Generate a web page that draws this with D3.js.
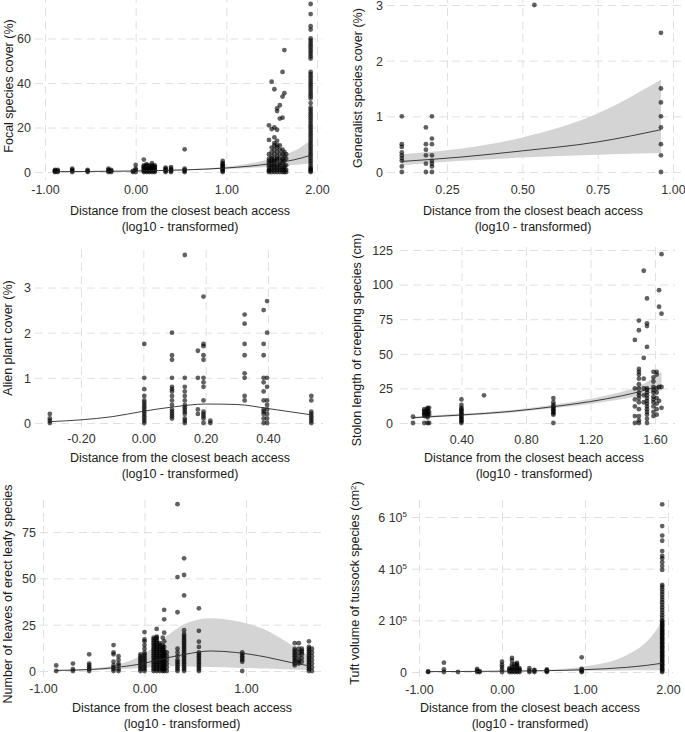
<!DOCTYPE html>
<html><head><meta charset="utf-8">
<script src="https://cdn.jsdelivr.net/npm/d3@7"></script>
<style>body{margin:0;background:#fff}svg{display:block}</style>
</head><body><svg id="c" width="685" height="732"></svg>
<script>
// ---------------- DATA ----------------
// x = distance from the closest beach access (log10), y = response
const focalPts = [
 [-0.89,[0,0.3,0.6,1]], [-0.86,[0,0.5,1]], [-0.7,[0,0.5,1,1.5]], [-0.53,[0,0.5,1]],
 [-0.3,[0,0.5,1,1.5]], [-0.27,[0,0.5,1]], [-0.03,[0,0.5]], [0.0,[0,1,1.5,3.2]],
 [0.09,[0,0.5,1,1.5,2,2.5,3,5.6]], [0.12,[0,0.5,1,1.5,2,2.5,3,3.5]], [0.15,[0,0.5,1,1.5,2,2.5,3]],
 [0.18,[0,0.5,1,1.5,2,2.5,3,4]], [0.21,[0,0.5,1,1.5,2,2.5,3]], [0.33,[0,0.5,1,1.5,2]],
 [0.39,[0,0.5,1,1.5,2.2]], [0.54,[0,0.5,1,1.5,10.2]], [0.96,[0,0.5,1,1.5,2,2.5,3,3.5,4,5]],
 [1.47,[0,0.5,1,2,3,4,5,6,8,14.4,21]], [1.5,[0,1,2,3,4,5,6,7,9,11,19.3,40.6]],
 [1.53,[0,1,2,3,4,5,6,8,10,12,13,15.6,20,37.2]], [1.56,[0,1,2,3,5,6,7,9,11,12,14,19,27.4,28.6]],
 [1.59,[0,1,2,3,4,6,8,10,12,24,30]], [1.62,[0,1,2,4,5,6,8,10,24.4,33.9,45]],
 [1.64,[0,1,2,3,5,7,9,35.4,54.8]], [1.66,[0,1,3,6,8]],
 [1.93,[0,0.5,1,1.5,2,3,4,5,6,7,8,9,10,11,12,13,14,15,16,17,18,19,20,21,22,23,24,25,26,27,28,29,31,33,34,35,36,37,38,39,40,41,42,43,44,45,51,52,53,54,55,56,57,58,59,60,64,65.5,71,75.5]]
];
const focalFitX = [-0.9,-0.5,0,0.5,1.0,1.25,1.5,1.75,1.93];
const focalFit  = [0.15,0.25,0.45,0.9,1.8,2.6,3.8,5.5,7.5];
const focalLo   = [0.08,0.15,0.32,0.7,1.35,1.8,2.4,3.1,3.9];
const focalHi   = [0.3,0.4,0.6,1.15,2.4,3.8,6.0,9.5,14.2];

const generalistPts = [
 [0.1,[0,0.1,0.2,0.25,0.3,0.35,0.45,0.5,1.0]], [0.18,[0,0.15,0.3,0.4,0.5,0.8]],
 [0.2,[0,0.1,0.15,0.2,0.3,0.5,0.6,1.0]], [0.54,[3.0]], [0.96,[0,0.3,0.5,0.8,1.0,1.25,1.5,2.5]]
];
const generalistFitX = [0.1,0.3,0.5,0.75,0.96];
const generalistFit  = [0.19,0.27,0.38,0.54,0.76];
const generalistLo   = [0.12,0.2,0.26,0.31,0.34];
const generalistHi   = [0.32,0.42,0.62,1.05,1.66];

const alienPts = [
 [-0.3,[0,0.05,0.1,0.2]],
 [0.003,[0,0.05,0.1,0.15,0.2,0.25,0.3,0.35,0.4,0.45,0.5,0.6,0.75,1.0,1.75]],
 [0.092,[0.1,0.15,0.2,0.25,0.3,0.4,0.5,0.6,0.7,0.75,0.8,1.0,1.4,1.5,2.0]],
 [0.133,[0,0.05,0.1,0.2,0.25,0.3,0.35,0.4,0.5,0.6,0.7,0.8,1.0,3.72]],
 [0.175,[0.2,0.3,1.0,1.6]],
 [0.193,[0,0.1,0.15,0.2,0.25,0.5,0.8,0.9,1.0,1.4,1.5,1.7,1.75,2.8]],
 [0.215,[0,0.05]],
 [0.325,[0.5,0.6,1.0,1.1,1.5,1.75,2.2,2.4]],
 [0.386,[0,0.1,0.2,0.25,0.3,0.5,0.7,0.9,1.0,1.5,1.75,2.5]],
 [0.397,[0,0.1,0.2,0.3,0.4,0.5,0.8,1.0,2.0,2.7]],
 [0.539,[0,0.05,0.1,0.15,0.2,0.25,0.5,0.6]]
];
const alienFitX = [-0.3,-0.2,-0.1,0,0.1,0.2,0.3,0.4,0.54];
const alienFit  = [0.03,0.07,0.14,0.26,0.36,0.42,0.41,0.32,0.18];

const stolonPts = [
 [0.1,[0,4.5]], [0.17,[0,5,6,7,8,9,10]], [0.19,[0,4,5,6,7,8,9,10,11]], [0.2,[0,6,8,11]],
 [0.4,[0,1,2,3,4,5,6,7,8,9,10,11,13,17]], [0.54,[20]], [0.97,[0,6,7,8,9,10,11,12,13,15,18]],
 [1.475,[0,5,12,17,25,60]], [1.5,[0,2,5,10,15,18,20,22,25,28,32,35,37,39,67,74]],
 [1.53,[15,20,25,32,47,110]], [1.55,[0,3,6,8,10,12,14,16,18,20,22,24,25,55,70,72,90]],
 [1.59,[5,8,12,15,17,19,22,24,26,30,33,37]], [1.61,[6,10,14,18,22,25,35,37]],
 [1.625,[16,26,84,96]], [1.64,[11,26,79,122]]
];
const stolonFitX = [0.1,0.4,0.7,0.97,1.2,1.4,1.5,1.64];
const stolonFit  = [3.8,5.8,8.3,11.8,15.5,19.8,22.5,27.5];
const stolonLo   = [3.2,5.0,7.4,10.6,13.8,17.3,19.5,23.5];
const stolonHi   = [4.6,6.8,9.3,13.2,17.5,22.8,26.5,37];

const leavesPts = [
 [-0.87,[0,3]], [-0.705,[0,1,4]], [-0.545,[0,1,2,3,4,9]], [-0.305,[0,1,2,3,5,9,10,14]],
 [-0.256,[0,1,3,4,6,8]], [-0.04,[0,1,2,3,4,5,6,7,8,9]],
 [0.0,[0,1,2,3,4,5,6,7,8,9,10,12,14,16,17,21]],
 [0.09,[0,1,2,3,4,5,6,7,8,9,10,11,12,13,14,15,16,17,18]],
 [0.12,[0,1,2,3,4,5,6,7,8,9,10,11,12,13,14,15,16,17,18,18.5,22.7]],
 [0.15,[0,1,2,3,4,5,6,7,8,9,10,11,12,13,14,15]],
 [0.18,[0,1,2,3,4,5,6,7,8,9,10,11,12,13,14,18]],
 [0.194,[0,1,2,3,4,5,6,7,8,9,10,11,13,16,20.7,27.9,33]],
 [0.22,[0,2,4,6,8,10]],
 [0.325,[0,1,2,3,4,5,6,8,10,12,31.7,50.7,90]],
 [0.39,[0,1,2,3,4,5,6,7,8,9,10,11,12,13,14,15,16,17,18,19,20,22,40.8,51.8,60.8]],
 [0.536,[0,1,2,3,4,5,6,7,8,9,10,13,15.8,21.7,33.8]],
 [0.963,[0,5,6,7,8,9,10]],
 [1.48,[3,4,5,6,7,8,9,10,11,12,15]], [1.52,[4,5,6,8,10,12,15]], [1.55,[5,7,9,10,11,12]],
 [1.62,[0,1,2,3,4,5,6,7,8,9,10,11,12,13,16]], [1.65,[0,2,4,6,8,10,12]]
];
const leavesFitX = [-0.88,-0.5,-0.3,0,0.2,0.4,0.65,0.9,1.2,1.45,1.62];
const leavesFit  = [0.3,0.9,1.8,4.2,6.8,9,10.8,10,7.5,4.5,2.8];
const leavesLo   = [0.1,0.4,0.9,1.8,2.5,2.4,2.1,1.8,1.3,0.8,0.5];
const leavesHi   = [0.5,1.5,3,9.5,18,25.5,28.5,27,22,14,8];

// tuft volume in units of 10^5 cm^2
const tuftPts = [
 [-0.89,[0,0.02]], [-0.7,[0,0.1,0.36]], [-0.53,[0]], [-0.3,[0,0.05,0.12]], [-0.27,[0,0.03]],
 [0.0,[0,0.1,0.2,0.28,0.4]], [0.09,[0,0.05,0.1,0.15]], [0.12,[0,0.05,0.1,0.2,0.3,0.45,0.55]],
 [0.15,[0,0.05,0.1,0.2,0.3]], [0.18,[0,0.05,0.1,0.2,0.25,0.3,0.35]], [0.21,[0,0.05,0.1,0.15]],
 [0.33,[0,0.05,0.15]], [0.39,[0,0.05,0.08]], [0.54,[0,0.03,0.06,0.1]], [0.96,[0,0.03,0.08,0.12,0.57]],
 [1.93,[0,0.05,0.1,0.15,0.2,0.25,0.3,0.35,0.4,0.45,0.5,0.55,0.6,0.65,0.7,0.75,0.8,0.85,0.9,0.95,1.0,1.05,1.1,1.15,1.2,1.25,1.3,1.35,1.4,1.45,1.5,1.55,1.6,1.65,1.7,1.75,1.8,1.85,1.9,1.95,2.0,2.1,2.2,2.3,2.4,2.5,2.6,2.7,2.8,2.9,3.0,3.1,3.2,3.3,3.37,3.95,4.1,4.25,4.4,4.49,4.68,5.08,5.28,5.65,6.49]]
];
const tuftFitX = [-0.9,-0.5,0,0.5,1.0,1.5,1.75,1.93];
const tuftFit  = [0.015,0.02,0.03,0.05,0.09,0.18,0.26,0.34];
const tuftLo   = [0.008,0.012,0.02,0.03,0.045,0.06,0.065,0.07];
const tuftHi   = [0.025,0.03,0.045,0.08,0.22,0.65,1.2,1.95];

// tick labels
const xLabAcc = ["-1.00","0.00","1.00","2.00"];
const xLabGen = ["0.25","0.50","0.75","1.00"];
const xLabAlien = ["-0.20","0.00","0.20","0.40"];
const xLabStolon = ["0.40","0.80","1.20","1.60"];
const xLabLeaves = ["-1.00","0.00","1.00"];

// ---------------- DRAW ----------------
const FONT = '"Liberation Sans", Arial, Helvetica, sans-serif';
const svg = d3.select('#c');
const xTitle1 = "Distance from the closest beach access";
const xTitle2 = "(log10 - transformed)";

function fitRows(fx, f, lo, hi){ return fx.map((x,i)=>({x, f:f[i], lo: lo?lo[i]:null, hi: hi?hi[i]:null})); }

function drawPanel(c){
  const x = d3.scaleLinear().domain(c.xd).range(c.xr);
  const y = d3.scaleLinear().domain(c.yd).range(c.yr);
  const [bx0,by0,bx1,by1] = c.box;
  const g = svg.append('g');
  const gx = g.append('g').attr('transform',`translate(0,${by0})`)
    .call(d3.axisBottom(x).tickValues(c.xt).tickSize(by1-by0).tickFormat(''));
  const gy = g.append('g').attr('transform',`translate(${bx0},0)`)
    .call(d3.axisRight(y).tickValues(c.yt).tickSize(bx1-bx0).tickFormat(''));
  [gx,gy].forEach(a=>{ a.select('.domain').remove();
    a.selectAll('line').attr('stroke','#e0e0e0').attr('stroke-width',1).attr('stroke-dasharray','8,5'); });

  const rows = fitRows(c.fx, c.f, c.lo, c.hi);
  if (c.lo){
    g.append('path').datum(rows)
      .attr('d', d3.area().x(d=>x(d.x)).y0(d=>y(d.lo)).y1(d=>y(d.hi)).curve(d3.curveMonotoneX))
      .attr('fill','#d4d4d4');
  }
  const pts = [];
  c.pts.forEach(([px, ys]) => ys.forEach(v => pts.push([px, v])));
  g.append('g').selectAll('circle').data(pts).join('circle')
    .attr('cx', d=>x(d[0])).attr('cy', d=>y(d[1])).attr('r', 2.4)
    .attr('fill','#000').attr('fill-opacity',0.62);
  g.append('path').datum(rows)
    .attr('d', d3.line().x(d=>x(d.x)).y(d=>y(d.f)).curve(d3.curveMonotoneX))
    .attr('fill','none').attr('stroke','#2a2a2a').attr('stroke-width',0.9);

  const lx = g.append('g').attr('transform',`translate(0,${c.xLabY})`)
    .call(d3.axisBottom(x).tickValues(c.xt).tickSize(0).tickPadding(0).tickFormat((d,i)=>c.xl[i]));
  lx.select('.domain').remove();
  lx.selectAll('text').attr('y',0).attr('dy','0.35em').attr('font-size',12.5).attr('fill','#333').attr('font-family',FONT);

  const ly = g.append('g').attr('transform',`translate(${c.yLabX},0)`)
    .call(d3.axisLeft(y).tickValues(c.yt).tickSize(0).tickPadding(0).tickFormat(c.yfmt || (d=>d)));
  ly.select('.domain').remove();
  ly.selectAll('text').attr('x',0).attr('dy','0.35em').attr('font-size',12.5).attr('fill','#333').attr('font-family',FONT);
  if (c.sciY){
    ly.selectAll('text').each(function(d){
      const t = d3.select(this); t.text(null);
      if (d === 0){ t.text('0'); return; }
      t.append('tspan').text(d + ' 10');
      t.append('tspan').attr('dy','-0.55em').attr('font-size',8).text('5');
    });
  }

  // x title
  g.append('text').attr('x',c.xtx).attr('y',c.xty).attr('dy','0.35em').attr('text-anchor','middle')
    .attr('font-size',12.5).attr('font-family',FONT).attr('fill','#1a1a1a').text(xTitle1);
  g.append('text').attr('x',c.xtx).attr('y',c.xty+16).attr('dy','0.35em').attr('text-anchor','middle')
    .attr('font-size',12.5).attr('font-family',FONT).attr('fill','#1a1a1a').text(xTitle2);
  // y title
  const yt = g.append('text').attr('transform',`translate(${c.ytx},${c.yty}) rotate(-90)`)
    .attr('dy','0.35em').attr('text-anchor','middle')
    .attr('font-size',12.5).attr('font-family',FONT).attr('fill','#1a1a1a');
  if (c.ySup){
    yt.append('tspan').text(c.ytitle);
    yt.append('tspan').attr('dy','-0.45em').attr('font-size',8).text(c.ySup);
    yt.append('tspan').attr('dy','0.45em').text(')');
  } else yt.text(c.ytitle);
}

drawPanel({box:[35,-5,322,180], xd:[-1,2], xr:[45,317], yd:[0,60], yr:[172,38.5],
  xt:[-1,0,1,2], xl:xLabAcc, yt:[0,20,40,60], xLabY:190, yLabX:31,
  pts:focalPts, fx:focalFitX, f:focalFit, lo:focalLo, hi:focalHi,
  xtx:180, xty:211, ytx:9, yty:86, ytitle:"Focal species cover (%)"});

drawPanel({box:[387,-5,681,180], xd:[0.25,1], xr:[447,673], yd:[0,3], yr:[172,5],
  xt:[0.25,0.5,0.75,1], xl:xLabGen, yt:[0,1,2,3], xLabY:190, yLabX:383,
  pts:generalistPts, fx:generalistFitX, f:generalistFit, lo:generalistLo, hi:generalistHi,
  xtx:533, xty:211, ytx:358, yty:88, ytitle:"Generalist species cover (%)"});

drawPanel({box:[35,250,323,428], xd:[-0.2,0.4], xr:[81,268], yd:[0,3], yr:[423,287.5],
  xt:[-0.2,0,0.2,0.4], xl:xLabAlien, yt:[0,1,2,3], xLabY:439, yLabX:31,
  pts:alienPts, fx:alienFitX, f:alienFit,
  xtx:180, xty:458, ytx:8, yty:338, ytitle:"Alien plant cover (%)"});

drawPanel({box:[400,247,675,430], xd:[0.1,1.64], xr:[413,661.5], yd:[0,125], yr:[423,250],
  xt:[0.4,0.8,1.2,1.6], xl:xLabStolon, yt:[0,25,50,75,100,125], xLabY:440, yLabX:393,
  pts:stolonPts, fx:stolonFitX, f:stolonFit, lo:stolonLo, hi:stolonHi,
  xtx:534, xty:458, ytx:357, yty:340, ytitle:"Stolon length of creeping species (cm)"});

drawPanel({box:[40,500,322,680], xd:[-1,1], xr:[43,246], yd:[0,75], yr:[671,532],
  xt:[-1,0,1], xl:xLabLeaves, yt:[0,25,50,75], xLabY:689, yLabX:36,
  pts:leavesPts, fx:leavesFitX, f:leavesFit, lo:leavesLo, hi:leavesHi,
  xtx:182, xty:708, ytx:8, yty:594, ytitle:"Number of leaves of erect leafy species"});

drawPanel({box:[412,500,673,680], xd:[-1,2], xr:[419,668], yd:[0,6], yr:[672,517],
  xt:[-1,0,1,2], xl:xLabAcc, yt:[0,2,4,6], xLabY:690, yLabX:407, sciY:true,
  pts:tuftPts, fx:tuftFitX, f:tuftFit, lo:tuftLo, hi:tuftHi,
  xtx:530, xty:708, ytx:355, yty:583, ytitle:"Tuft volume of tussock species (cm", ySup:"2"});
</script></body></html>
